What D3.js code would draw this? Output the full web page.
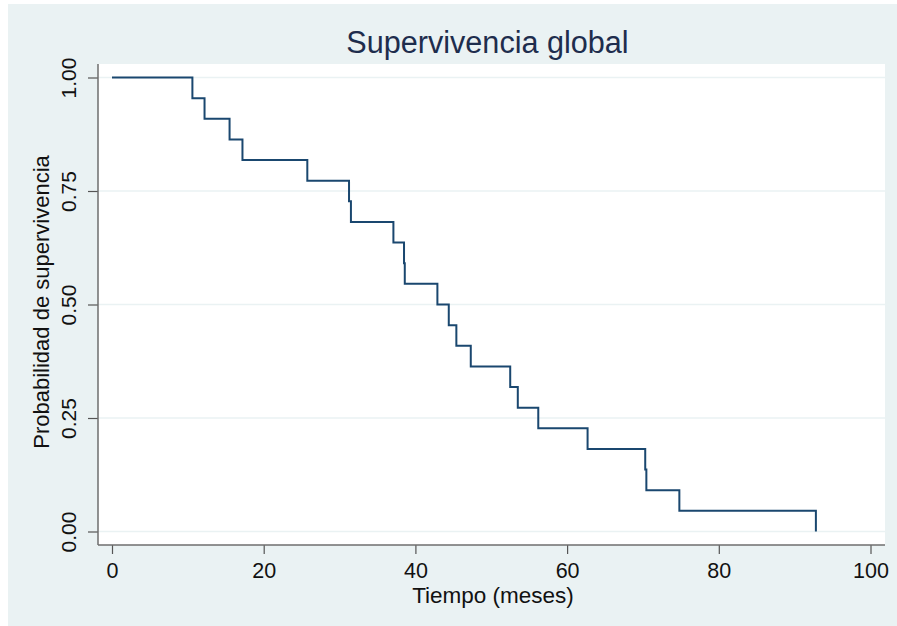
<!DOCTYPE html>
<html>
<head>
<meta charset="utf-8">
<script src="https://cdn.jsdelivr.net/npm/d3@7"></script>
<style>
  html, body { margin: 0; padding: 0; background: #ffffff; }
  svg { display: block; font-family: "Liberation Sans", Arial, Helvetica, sans-serif; }
</style>
</head>
<body>
<svg id="chart" width="897" height="626"></svg>
<script>
// ---- data ----
const times = [0, 10.6, 12.2, 15.5, 17.2, 25.75, 31.25, 31.5, 37.1, 38.5, 38.6, 42.9, 44.4, 45.4, 47.3, 52.5, 53.5, 56.2, 62.7, 70.3, 70.45, 74.8, 92.8];
const survival = [1, 0.9545, 0.9091, 0.8636, 0.8182, 0.7727, 0.7273, 0.6818, 0.6364, 0.5909, 0.5455, 0.5, 0.4545, 0.4091, 0.3636, 0.3182, 0.2727, 0.2273, 0.1818, 0.1364, 0.0909, 0.0455, 0];
const xTicks = [0, 20, 40, 60, 80, 100];
const yTicks = [0, 0.25, 0.5, 0.75, 1];
const titleText = "Supervivencia global";
const xTitle = "Tiempo (meses)";
const yTitle = "Probabilidad de supervivencia";

const svg = d3.select("#chart");

// graph region background
svg.append("rect").attr("x", 8).attr("y", 4).attr("width", 889).attr("height", 622).attr("fill", "#eaf2f3");

// plot region
const plot = { left: 98, right: 885, top: 64, bottom: 545 };
svg.append("rect").attr("x", plot.left).attr("y", plot.top)
  .attr("width", plot.right - plot.left).attr("height", plot.bottom - plot.top).attr("fill", "#ffffff");

const x = d3.scaleLinear().domain([0, 100]).range([112, 870.5]);
const y = d3.scaleLinear().domain([0, 1]).range([531.5, 77.5]);

// gridlines
svg.append("g").selectAll("line").data(yTicks).join("line")
  .attr("x1", plot.left).attr("x2", plot.right)
  .attr("y1", d => y(d)).attr("y2", d => y(d))
  .attr("stroke", "#eaf2f3").attr("stroke-width", 1.5);

// curve
const data = times.map((t, i) => ({ t, s: survival[i] }));
const line = d3.line().x(d => x(d.t)).y(d => y(d.s)).curve(d3.curveStepAfter);
svg.append("path").datum(data).attr("d", line)
  .attr("fill", "none").attr("stroke", "#1a476f").attr("stroke-width", 2);

// y axis
const yAxis = svg.append("g").attr("transform", `translate(${plot.left},0)`)
  .call(d3.axisLeft(y).tickValues(yTicks).tickFormat(d3.format(".2f")).tickSize(10));
yAxis.select(".domain").remove();
yAxis.selectAll(".tick line").attr("stroke", "#555").attr("stroke-width", 1.2);
yAxis.selectAll(".tick text")
  .attr("x", 0).attr("y", -22).attr("dy", 0)
  .attr("text-anchor", "middle").attr("transform", "rotate(-90)")
  .attr("font-size", 21).attr("fill", "#111").attr("font-family", null);

// x axis
const xAxis = svg.append("g").attr("transform", `translate(0,${plot.bottom})`)
  .call(d3.axisBottom(x).tickValues(xTicks).tickFormat(d3.format("d")).tickSize(9));
xAxis.select(".domain").remove();
xAxis.selectAll(".tick line").attr("stroke", "#555").attr("stroke-width", 1.2);
xAxis.selectAll(".tick text")
  .attr("y", 32.5).attr("dy", 0)
  .attr("font-size", 21.5).attr("fill", "#111").attr("font-family", null);

// axis lines
svg.append("line").attr("x1", plot.left).attr("x2", plot.left).attr("y1", plot.top).attr("y2", plot.bottom)
  .attr("stroke", "#6e6e6e").attr("stroke-width", 1.5);
svg.append("line").attr("x1", plot.left).attr("x2", plot.right).attr("y1", plot.bottom).attr("y2", plot.bottom)
  .attr("stroke", "#6e6e6e").attr("stroke-width", 1.5);

// titles
svg.append("text").attr("x", 487.5).attr("y", 53).attr("text-anchor", "middle")
  .attr("font-size", 30.6).attr("fill", "#1e2d4d").text(titleText);
svg.append("text").attr("x", 493).attr("y", 603).attr("text-anchor", "middle")
  .attr("font-size", 22.5).attr("fill", "#111").text(xTitle);
svg.append("text").attr("transform", "translate(49,302) rotate(-90)").attr("text-anchor", "middle")
  .attr("font-size", 22).attr("fill", "#111").text(yTitle);
</script>
</body>
</html>
